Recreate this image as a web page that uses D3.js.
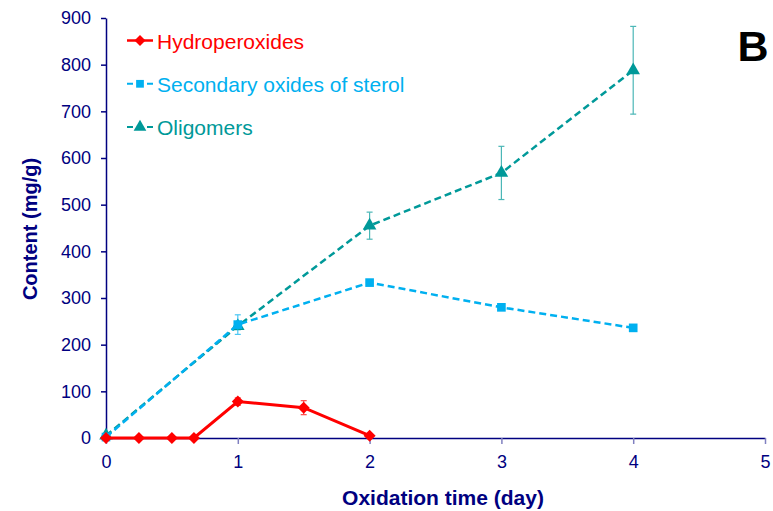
<!DOCTYPE html>
<html><head><meta charset="utf-8">
<script src="https://cdn.jsdelivr.net/npm/d3@7"></script>
<style>body{margin:0;background:#fff}svg{display:block}</style>
</head><body>
<svg id="c" width="773" height="511"></svg>
<script>
const hydroX = [0, 0.25, 0.5, 0.667, 1, 1.5, 2];
const hydroY = [0, 0, 0, 0, 78, 65, 5];
const hydroErr = [0, 0, 0, 0, 8, 15, 2];
const secX = [0, 1, 2, 3, 4];
const secY = [2, 243, 333, 280, 236];
const secErr = [2, 21, 6, 6, 7];
const oligX = [0, 1, 2, 3, 4];
const oligY = [5, 240, 455, 568, 788];
const oligErr = [3, 8, 29, 57, 94];
const xTicks = [0, 1, 2, 3, 4, 5];
const yTicks = [0, 100, 200, 300, 400, 500, 600, 700, 800, 900];
const seriesNames = ["Hydroperoxides", "Secondary oxides of sterol", "Oligomers"];
const colors = ["#FF0000", "#00B0F0", "#009999"];
const navy = "#000080";

const svg = d3.select("#c");
const x = d3.scaleLinear().domain([0, 5]).range([106, 765]);
const y = d3.scaleLinear().domain([0, 900]).range([438, 18]);
const font = "Liberation Sans, Arial, sans-serif";

// axes
const xa = svg.append("g").attr("transform", "translate(0,438)")
  .call(d3.axisBottom(x).tickValues(xTicks).tickFormat(d3.format("d")).tickSize(6).tickSizeOuter(0).tickPadding(11));
const ya = svg.append("g").attr("transform", "translate(106,0)")
  .call(d3.axisLeft(y).tickValues(yTicks).tickFormat(d3.format("d")).tickSize(5).tickSizeOuter(0).tickPadding(10));
[xa, ya].forEach(a => {
  a.selectAll("path,line").attr("stroke", navy).attr("stroke-width", 1.5);
  a.selectAll("text").attr("fill", navy).style("font-family", font).style("font-size", "18px");
});
xa.selectAll("line").attr("stroke", "#8080c0");

svg.append("text").attr("x", 443).attr("y", 505).attr("text-anchor", "middle")
  .style("font-family", font).style("font-size", "21px").style("font-weight", "bold")
  .attr("fill", navy).text("Oxidation time (day)");
svg.append("text").attr("transform", "translate(37,229) rotate(-90)").attr("text-anchor", "middle")
  .style("font-family", font).style("font-size", "20px").style("font-weight", "bold")
  .attr("fill", navy).text("Content (mg/g)");
svg.append("text").attr("x", 753).attr("y", 61).attr("text-anchor", "middle")
  .style("font-family", font).style("font-size", "43px").style("font-weight", "bold")
  .attr("fill", "#000").text("B");

function errBars(xs, ys, es, color) {
  const g = svg.append("g").attr("stroke", color).attr("stroke-width", 1.2).attr("opacity", 0.7);
  xs.forEach((xv, i) => {
    if (es[i] < 4) return;
    const cx = x(xv), y1 = y(ys[i] + es[i]), y2 = y(ys[i] - es[i]);
    g.append("line").attr("x1", cx).attr("x2", cx).attr("y1", y1).attr("y2", y2);
    g.append("line").attr("x1", cx - 3).attr("x2", cx + 3).attr("y1", y1).attr("y2", y1);
    g.append("line").attr("x1", cx - 3).attr("x2", cx + 3).attr("y1", y2).attr("y2", y2);
  });
}
const line = d3.line().x(d => x(d[0])).y(d => y(d[1]));

function series(xs, ys, es, color, dash, sym, size, sw, rot) {
  errBars(xs, ys, es, color);
  svg.append("path").datum(xs.map((v, i) => [v, ys[i]])).attr("d", line)
    .attr("fill", "none").attr("stroke", color).attr("stroke-width", sw)
    .attr("stroke-dasharray", dash);
  svg.append("g").selectAll("path").data(xs.map((v, i) => [v, ys[i]])).join("path")
    .attr("transform", d => `translate(${x(d[0])},${y(d[1])}) rotate(${rot})`)
    .attr("d", d3.symbol().type(sym).size(size)).attr("fill", color);
}
series(oligX, oligY, oligErr, colors[2], "7,4", d3.symbolTriangle, 80, 2.5, 0);
series(secX, secY, secErr, colors[1], "7,4", d3.symbolSquare, 75, 2.5, 0);
series(hydroX, hydroY, hydroErr, colors[0], null, d3.symbolSquare, 72, 3, 45);

// legend
const syms = [d3.symbolSquare, d3.symbolSquare, d3.symbolTriangle];
const sizes = [60, 60, 70];
const rots = [45, 0, 0];
const dashes = [null, "6,4", "6,4"];
seriesNames.forEach((n, i) => {
  const ly = 40.5 + i * 43.3;
  svg.append("line").attr("x1", 127).attr("x2", 153).attr("y1", ly).attr("y2", ly)
    .attr("stroke", colors[i]).attr("stroke-width", i === 0 ? 2.5 : 2)
    .attr("stroke-dasharray", dashes[i]);
  svg.append("path").attr("transform", `translate(140,${ly}) rotate(${rots[i]})`)
    .attr("d", d3.symbol().type(syms[i]).size(sizes[i])).attr("fill", colors[i]);
  svg.append("text").attr("x", 157).attr("y", ly + 8).attr("fill", colors[i])
    .style("font-family", font).style("font-size", "21px").text(n);
});
</script>
</body></html>
